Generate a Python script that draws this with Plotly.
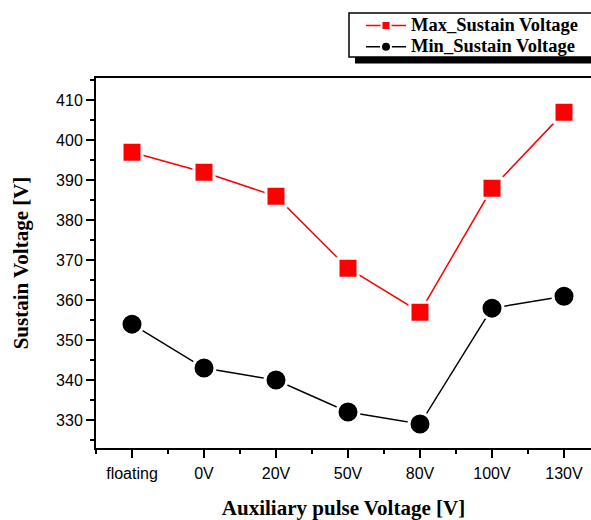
import plotly.graph_objects as go

# Auxiliary pulse settings and measured sustain voltage window
categories = ["floating", "0V", "20V", "50V", "80V", "100V", "130V"]
max_sustain = [397, 392, 386, 368, 357, 388, 407]
min_sustain = [354, 343, 340, 332, 329, 358, 361]
series_names = ["Max_Sustain Voltage", "Min_Sustain Voltage"]

xpos = list(range(len(categories)))

SERIF = "Liberation Serif, Times New Roman, serif"
SANS = "Liberation Sans, Arial, sans-serif"

# Pixel geometry of the plot area (used to place the legend box in paper units)
L, R, T, B = 96, 591, 78, 448


def px_x(px):
    return (px - L) / (R - L)


def px_y(py):
    return 1 + (T - py) / (B - T)


fig = go.Figure()

# Data traces (markers with a white halo so the lines stop short of them)
fig.add_trace(go.Scatter(
    x=xpos, y=max_sustain, mode="lines+markers", showlegend=False,
    line=dict(color="#ff0000", width=1.5),
    marker=dict(symbol="square", size=20, color="#ff0000",
                line=dict(color="white", width=3)),
))
fig.add_trace(go.Scatter(
    x=xpos, y=min_sustain, mode="lines+markers", showlegend=False,
    line=dict(color="black", width=1.5),
    marker=dict(symbol="circle", size=22, color="black",
                line=dict(color="white", width=3)),
))

# Legend entries with small symbols
legend_label = '<span style="font-size:18.5px"><b>{}</b></span>'
fig.add_trace(go.Scatter(
    x=[None], y=[None], mode="lines+markers",
    name=legend_label.format(series_names[0]),
    line=dict(color="#ff0000", width=1.5),
    marker=dict(symbol="square", size=9, color="#ff0000",
                line=dict(color="white", width=2)),
))
fig.add_trace(go.Scatter(
    x=[None], y=[None], mode="lines+markers",
    name=legend_label.format(series_names[1]),
    line=dict(color="black", width=1.5),
    marker=dict(symbol="circle", size=10, color="black",
                line=dict(color="white", width=2)),
))

# Legend frame with a drop shadow
fig.add_shape(type="rect", xref="paper", yref="paper",
              x0=px_x(355), x1=px_x(610), y0=px_y(63.5), y1=px_y(20),
              fillcolor="black", line=dict(width=0), layer="above")
fig.add_shape(type="rect", xref="paper", yref="paper",
              x0=px_x(349), x1=px_x(610), y0=px_y(57), y1=px_y(13),
              fillcolor="white", line=dict(color="black", width=1.5),
              layer="above")

fig.update_layout(
    width=591, height=520,
    margin=dict(l=L, r=591 - R, t=T, b=520 - B),
    paper_bgcolor="white", plot_bgcolor="white",
    font=dict(family=SANS, color="black", size=16),
    legend=dict(
        x=px_x(361), y=px_y(10),
        xanchor="left", yanchor="top",
        bgcolor="rgba(0,0,0,0)", borderwidth=0,
        font=dict(family=SERIF, size=14, color="black"),
        itemwidth=40, tracegroupgap=0,
    ),
    xaxis=dict(
        range=[-0.5, 6.375],
        tickmode="array", tickvals=xpos, ticktext=categories,
        ticks="outside", ticklen=8, tickwidth=1.5, tickcolor="black",
        minor=dict(tickmode="array",
                   tickvals=[p - 0.5 for p in xpos],
                   ticks="outside", ticklen=4, tickwidth=1.5, tickcolor="black"),
        showline=True, linewidth=2, linecolor="black", mirror=True,
        showgrid=False, zeroline=False,
        ticklabelstandoff=2,
        tickfont=dict(family=SANS, size=16, color="black"),
        title=dict(text="<b>Auxiliary pulse Voltage [V]</b>",
                   font=dict(family=SERIF, size=21, color="black"),
                   standoff=20),
    ),
    yaxis=dict(
        range=[323, 415.6],
        tickmode="linear", tick0=330, dtick=10,
        ticks="outside", ticklen=8, tickwidth=1.5, tickcolor="black",
        minor=dict(dtick=5, tick0=325, ticks="outside", ticklen=4,
                   tickwidth=1.5, tickcolor="black"),
        showline=True, linewidth=2, linecolor="black", mirror=False,
        showgrid=False, zeroline=False,
        tickfont=dict(family=SANS, size=16, color="black"),
        title=dict(text="<b>Sustain Voltage [V]</b>",
                   font=dict(family=SERIF, size=21, color="black"),
                   standoff=22),
    ),
)

fig.write_html("out.html")
